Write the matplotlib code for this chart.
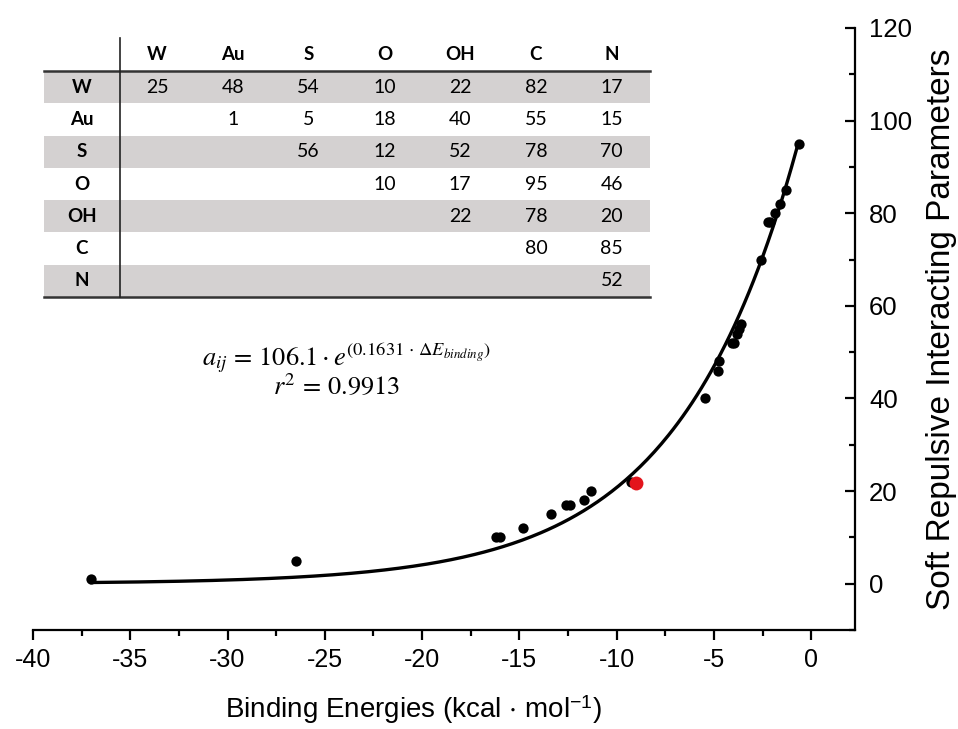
import numpy as np
import matplotlib
matplotlib.use('Agg')
import matplotlib.pyplot as plt
from matplotlib.ticker import MultipleLocator
from matplotlib.patches import Rectangle

plt.rcParams['font.family'] = ['Liberation Sans', 'DejaVu Sans']
plt.rcParams['mathtext.fontset'] = 'stix'

# points (binding energy, a_ij)
energy = [-37.0, -26.5, -16.2, -16.0, -14.8, -13.4, -12.6, -12.4, -11.7, -11.3, -9.25,
          -5.45, -4.78, -4.72, -4.05, -3.95, -3.8, -3.7, -3.6, -2.58, -2.2, -2.1,
          -1.85, -1.6, -1.3, -0.65]
aij = [1, 5, 10, 10, 12, 15, 17, 17, 18, 20, 22,
       40, 46, 48, 52, 52, 54, 55, 56, 70, 78, 78,
       80, 82, 85, 95]
red_energy = [-9.0]
red_aij = [21.8]

# fit a_ij = A * exp(B * dE)
A = 106.1
B = 0.1631
r2 = 0.9913

# interaction parameter table (upper triangle)
beads = ['W', 'Au', 'S', 'O', 'OH', 'C', 'N']
table = [
    [25, 48, 54, 10, 22, 82, 17],
    [None, 1, 5, 18, 40, 55, 15],
    [None, None, 56, 12, 52, 78, 70],
    [None, None, None, 10, 17, 95, 46],
    [None, None, None, None, 22, 78, 20],
    [None, None, None, None, None, 80, 85],
    [None, None, None, None, None, None, 52],
]

W, H = 958, 729
fig = plt.figure(figsize=(W / 100, H / 100), dpi=100)
ax = fig.add_axes([33 / W, (H - 630) / H, 822 / W, 602 / H])

xfit = np.linspace(min(energy), max(energy), 300)
ax.plot(xfit, A * np.exp(B * xfit), color='black', lw=2.4, zorder=2)
ax.scatter(energy, aij, s=55, color='black', zorder=3, linewidths=0)
ax.scatter(red_energy, red_aij, s=100, color='#e3141c', zorder=4, linewidths=0)

ax.set_xlim(-40, 2.25)
ax.set_ylim(-10, 120)
ax.spines['left'].set_visible(False)
ax.spines['top'].set_visible(False)
for s in ('bottom', 'right'):
    ax.spines[s].set_linewidth(1.6)
ax.yaxis.tick_right()
ax.yaxis.set_label_position('right')
ax.xaxis.set_major_locator(MultipleLocator(5))
ax.xaxis.set_minor_locator(MultipleLocator(2.5))
ax.yaxis.set_major_locator(MultipleLocator(20))
ax.yaxis.set_minor_locator(MultipleLocator(10))
ax.tick_params(axis='x', which='major', direction='out', length=7, width=1.6,
               labelsize=18, pad=6)
ax.tick_params(axis='x', which='minor', direction='out', length=4, width=1.6)
ax.tick_params(axis='y', which='major', direction='in', length=7, width=1.6,
               labelsize=18.5, pad=10)
ax.tick_params(axis='y', which='minor', direction='in', length=4, width=1.6)
ax.set_xticks(np.arange(-40, 1, 5))
ax.set_xticklabels([str(v) for v in range(-40, 1, 5)])
ax.set_xlabel(r'Binding Energies (kcal $\cdot$ mol$^{\mathregular{-1}}$)', fontsize=20, labelpad=16)
ax.xaxis.set_label_coords((414 - 33) / 822, -0.105)
ax.set_ylabel('Soft Repulsive Interacting Parameters', fontsize=24, labelpad=10)

fig.text(346 / W, 1 - 365 / H,
         r'$a_{ij}\,=\,106.1\cdot e^{(0.1631\,\cdot\,\Delta E_{binding})}$',
         ha='center', va='baseline', fontsize=19)
fig.text(337 / W, 1 - 394 / H, r'$r^{2}\,=\,%.4f$' % r2,
         ha='center', va='baseline', fontsize=19)

# table drawn in pixel-like coordinates
tx0, tx1, ty0, ty1 = 44, 650, 38, 297
tab = fig.add_axes([tx0 / W, (H - ty1) / H, (tx1 - tx0) / W, (ty1 - ty0) / H])
tab.set_xlim(tx0, tx1)
tab.set_ylim(ty1, ty0)
tab.axis('off')
row_top = 71
row_h = (ty1 - row_top) / len(beads)
col0 = 157
col_w = 75.8
label_x = 82
tfont = ['Lato', 'DejaVu Sans']
for i, name in enumerate(beads):
    yc = row_top + row_h * (i + 0.5)
    if i % 2 == 0:
        tab.add_patch(Rectangle((tx0, row_top + row_h * i), tx1 - tx0, row_h,
                                color='#d4d1d1', lw=0, zorder=1))
    tab.text(label_x, yc, name, ha='center', va='center', fontsize=13.5,
             fontweight='bold', family=tfont, zorder=3)
    tab.text(col0 + col_w * i, 55, name, ha='center', va='center', fontsize=13.5,
             fontweight='bold', family=tfont, zorder=3)
    for j, v in enumerate(table[i]):
        if v is not None:
            tab.text(col0 + col_w * j, yc, str(v), ha='center', va='center',
                     fontsize=14, family=tfont, zorder=3)
tab.plot([tx0, tx1], [row_top, row_top], color='#333333', lw=1.8, zorder=4, clip_on=False)
tab.plot([tx0, tx1], [ty1, ty1], color='#333333', lw=1.8, zorder=4, clip_on=False)
tab.plot([120, 120], [ty0, ty1], color='#222222', lw=1.2, zorder=4, clip_on=False)

fig.savefig('out.png', dpi=100)
